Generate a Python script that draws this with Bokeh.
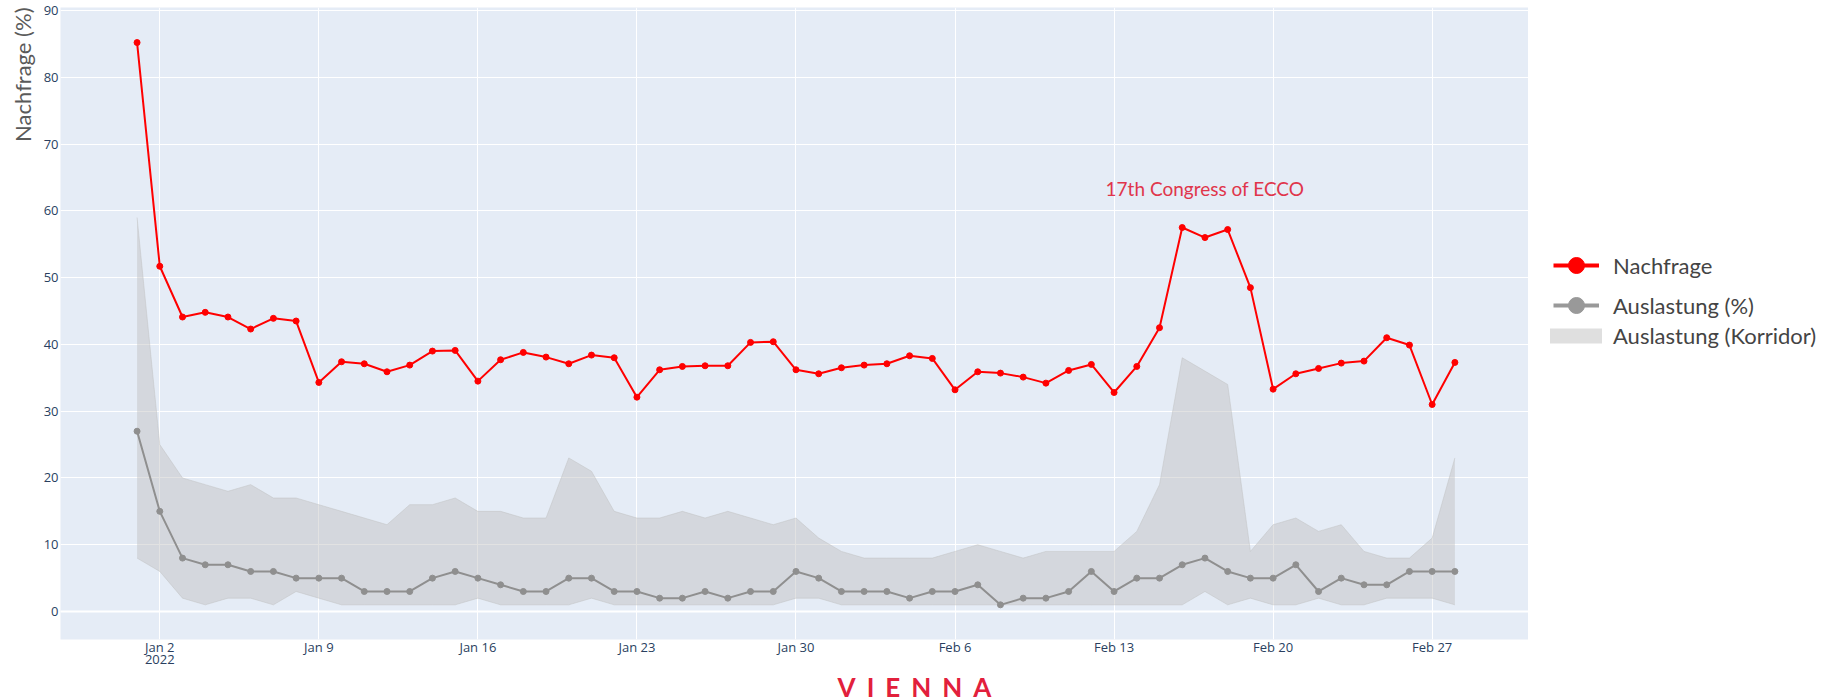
import pandas as pd
from bokeh.plotting import figure
from bokeh.layouts import column, row
from bokeh.models import (ColumnDataSource, Range1d, FixedTicker, Legend, LegendItem,
                          Label, Span, Div, Title, DatetimeAxis)
from bokeh.embed import file_html
from bokeh.resources import INLINE

# ---------------- data ----------------
dates = pd.date_range("2022-01-01", "2022-02-28", freq="D")

nachfrage = [85.2, 51.7, 44.1, 44.8, 44.1, 42.3, 43.9, 43.5, 34.3, 37.4,
             37.1, 35.9, 36.9, 39.0, 39.1, 34.5, 37.7, 38.8, 38.1, 37.1,
             38.4, 38.0, 32.1, 36.2, 36.7, 36.8, 36.8, 40.3, 40.4, 36.2,
             35.6, 36.5, 36.9, 37.1, 38.3, 37.9, 33.2, 35.9, 35.7, 35.1,
             34.2, 36.1, 37.0, 32.8, 36.7, 42.5, 57.5, 56.0, 57.2, 48.5,
             33.3, 35.6, 36.4, 37.2, 37.5, 41.0, 39.9, 31.0, 37.3]

auslastung = [27, 15, 8, 7, 7, 6, 6, 5, 5, 5,
              3, 3, 3, 5, 6, 5, 4, 3, 3, 5,
              5, 3, 3, 2, 2, 3, 2, 3, 3, 6,
              5, 3, 3, 3, 2, 3, 3, 4, 1, 2,
              2, 3, 6, 3, 5, 5, 7, 8, 6, 5,
              5, 7, 3, 5, 4, 4, 6, 6, 6]

korridor_oben = [59, 25, 20, 19, 18, 19, 17, 17, 16, 15,
                 14, 13, 16, 16, 17, 15, 15, 14, 14, 23,
                 21, 15, 14, 14, 15, 14, 15, 14, 13, 14,
                 11, 9, 8, 8, 8, 8, 9, 10, 9, 8,
                 9, 9, 9, 9, 12, 19, 38, 36, 34, 9,
                 13, 14, 12, 13, 9, 8, 8, 11, 23]

korridor_unten = [8, 6, 2, 1, 2, 2, 1, 3, 2, 1,
                  1, 1, 1, 1, 1, 2, 1, 1, 1, 1,
                  2, 1, 1, 1, 1, 1, 1, 1, 1, 2,
                  2, 1, 1, 1, 1, 1, 1, 1, 1, 1,
                  1, 1, 1, 1, 1, 1, 1, 3, 1, 2,
                  1, 1, 2, 1, 1, 2, 2, 2, 1]

x_tick_dates = ["2022-01-02", "2022-01-09", "2022-01-16", "2022-01-23", "2022-01-30",
                "2022-02-06", "2022-02-13", "2022-02-20", "2022-02-27"]
x_tick_labels = ["Jan 2", "Jan 9", "Jan 16", "Jan 23", "Jan 30",
                 "Feb 6", "Feb 13", "Feb 20", "Feb 27"]
year_tick_date = "2022-01-02"
year_tick_label = "2022"
y_ticks = [0, 10, 20, 30, 40, 50, 60, 70, 80, 90]

series_names = ["Nachfrage", "Auslastung (%)", "Auslastung (Korridor)"]
y_title = "Nachfrage (%)"
annotation_text = "17th Congress of ECCO"
annotation_date = "2022-02-17"
annotation_y = 63.4
brand_text = "VIENNA"

# ---------------- helpers ----------------
def ms(d):
    return pd.Timestamp(d).value // 10**6

DAY = 86400000
x_start = ms("2022-01-02") - 4.37 * DAY
x_end = ms("2022-01-02") + 60.24 * DAY
y_start, y_end = -4.19, 90.45

W_MAIN, W_LEG, H = 1528, 297, 672
B_LEFT, B_TOP, B_BOTTOM = 60, 7, 33
FRAME_BOTTOM = H - B_BOTTOM

src = ColumnDataSource(dict(date=dates, nachfrage=nachfrage, auslastung=auslastung,
                            oben=korridor_oben, unten=korridor_unten))

RED = "#ff0000"
GRAY = "#8f8f8f"
LEG_GRAY = "#999999"
BAND = "#bebebe"
BAND_ALPHA = 0.45
BG = "#e5ecf6"
TICK_FONT = "Open Sans"
TXT_FONT = "Lato"

p = figure(width=W_MAIN, height=H, x_axis_type="datetime",
           x_range=Range1d(x_start, x_end), y_range=Range1d(y_start, y_end),
           output_backend="svg", toolbar_location=None,
           min_border_left=B_LEFT, min_border_right=0,
           min_border_top=B_TOP, min_border_bottom=B_BOTTOM)
p.background_fill_color = BG
p.border_fill_color = "white"
p.outline_line_color = None

# band
band = p.varea(x="date", y1="unten", y2="oben", source=src,
               fill_color=BAND, fill_alpha=BAND_ALPHA)
p.line(x="date", y="oben", source=src, line_color=BAND, line_alpha=BAND_ALPHA, line_width=1)
p.line(x="date", y="unten", source=src, line_color=BAND, line_alpha=BAND_ALPHA, line_width=1)

# Auslastung
p.line(x="date", y="auslastung", source=src, line_color=GRAY, line_width=2)
p.scatter(x="date", y="auslastung", source=src, size=6, fill_color=GRAY, line_color=GRAY)

# Nachfrage
p.line(x="date", y="nachfrage", source=src, line_color=RED, line_width=2)
p.scatter(x="date", y="nachfrage", source=src, size=6, fill_color=RED, line_color=RED)

# zero line
p.add_layout(Span(location=0, dimension="width", line_color="white", line_width=2))

# axes
def style_axis(ax, standoff):
    ax.axis_line_color = None
    ax.major_tick_line_color = None
    ax.minor_tick_line_color = None
    ax.major_tick_out = 0
    ax.minor_tick_out = 0
    ax.major_tick_in = 0
    ax.minor_tick_in = 0
    ax.major_label_text_font = TICK_FONT
    ax.major_label_text_font_size = "13px"
    ax.major_label_text_color = "#2a3f5f"
    ax.major_label_standoff = standoff

p.xaxis.ticker = FixedTicker(ticks=[ms(d) for d in x_tick_dates])
p.xaxis.major_label_overrides = {ms(d): lab for d, lab in zip(x_tick_dates, x_tick_labels)}
p.yaxis.ticker = FixedTicker(ticks=y_ticks)
style_axis(p.xaxis[0], -2)
style_axis(p.yaxis[0], 2)

year_axis = DatetimeAxis(ticker=FixedTicker(ticks=[ms(year_tick_date)]),
                         major_label_overrides={ms(year_tick_date): year_tick_label})
style_axis(year_axis, -4)
p.add_layout(year_axis, "below")

p.xgrid.grid_line_color = "white"
p.ygrid.grid_line_color = "white"
p.xgrid.grid_line_width = 1
p.ygrid.grid_line_width = 1

# y axis title, at the top of the axis
p.add_layout(Title(text=y_title, align="right", text_font=TXT_FONT, text_font_size="22px",
                   text_font_style="normal", text_color="#5a5a5a", standoff=10), "left")

# annotation
p.add_layout(Label(x=ms(annotation_date), y=annotation_y, text=annotation_text,
                   text_align="center", text_baseline="middle",
                   text_font=TXT_FONT, text_font_size="19px", text_color="#e0354b"))

# ---------------- legend panel (own figure to the right) ----------------
lf = figure(width=W_LEG, height=H, x_range=Range1d(0, 1), y_range=Range1d(0, 1),
            output_backend="svg", toolbar_location=None, min_border=0,
            x_axis_location=None, y_axis_location=None)
lf.grid.visible = False
lf.outline_line_color = None
lf.background_fill_color = "white"
lf.border_fill_color = "white"

off = ColumnDataSource(dict(x=[-5, -4], y=[0.5, 0.5], y1=[0.2, 0.2], y2=[0.8, 0.8]))
lr1 = lf.line(x="x", y="y", source=off, line_color=RED, line_width=4)
ls1 = lf.scatter(x="x", y="y", source=off, size=15, fill_color=RED, line_color=RED)
lr2 = lf.line(x="x", y="y", source=off, line_color=LEG_GRAY, line_width=4)
ls2 = lf.scatter(x="x", y="y", source=off, size=15, fill_color=LEG_GRAY, line_color=LEG_GRAY)
lb = lf.varea(x="x", y1="y1", y2="y2", source=off, fill_color="#d4d4d4", fill_alpha=0.75)

def style_legend(lg):
    lg.padding = 0
    lg.margin = 0
    lg.border_line_color = None
    lg.background_fill_alpha = 0
    lg.label_text_font = TXT_FONT
    lg.label_text_font_size = "22px"
    lg.label_text_color = "#444444"

legend1 = Legend(items=[LegendItem(label=series_names[0], renderers=[lr1, ls1]),
                        LegendItem(label=series_names[1], renderers=[lr2, ls2])],
                 location=(25, FRAME_BOTTOM - 251 - 74))
legend1.glyph_width = 46
legend1.glyph_height = 40
legend1.label_standoff = 14
legend1.spacing = -10
style_legend(legend1)
lf.add_layout(legend1, "center")

legend2 = Legend(items=[LegendItem(label=series_names[2], renderers=[lb])],
                 location=(15, FRAME_BOTTOM - 323 - 26))
legend2.glyph_width = 65
legend2.glyph_height = 19
legend2.label_standoff = 5
style_legend(legend2)
lf.add_layout(legend2, "center")

# brand line under the chart
brand = Div(text=brand_text, width=W_MAIN + W_LEG, height=26,
            styles={"text-align": "center", "font-family": "Lato", "font-weight": "bold",
                    "font-size": "26px", "line-height": "24px", "letter-spacing": "11px",
                    "color": "#e2203c", "padding-left": "15px", "padding-top": "3px",
                    "margin": "0"})

layout = column(row(p, lf, spacing=0), brand, spacing=0)
open("out.html", "w").write(file_html(layout, INLINE))
